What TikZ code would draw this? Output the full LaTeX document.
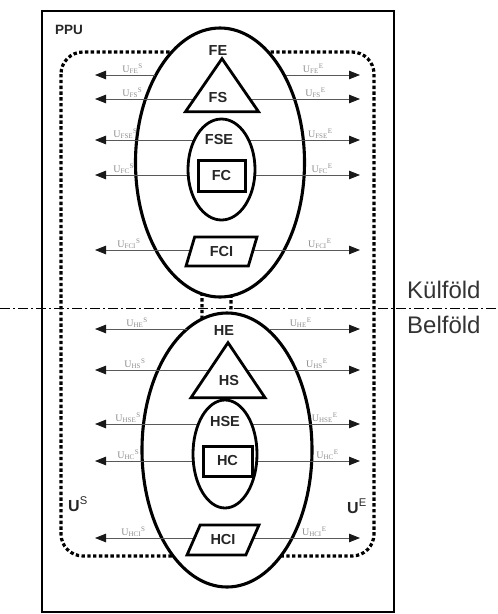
\documentclass[tikz,border=0pt]{standalone}
\usepackage{fontspec}
\setmainfont{Liberation Serif}
\setsansfont{Liberation Sans}
\usetikzlibrary{arrows.meta,positioning,shapes.geometric}
\pgfdeclarelayer{bg}
\pgfdeclarelayer{mid}
\pgfsetlayers{bg,mid,main}

\begin{document}
\begin{tikzpicture}[x=1pt, y=-1pt, font=\sffamily\bfseries]
\tikzstyle{frame}=[draw, line width=2.8pt, inner sep=0pt, minimum width=352pt, minimum height=601pt]
\tikzstyle{ubound}=[draw, line width=3.2pt, dash pattern=on 3.4pt off 2.4pt, rounded corners=22pt]
\tikzstyle{bigell}=[ellipse, draw, line width=3.1pt, fill=white, inner sep=0pt, minimum width=169pt, minimum height=269pt]
\tikzstyle{smallell}=[ellipse, draw, line width=2.8pt, fill=white, inner sep=0pt]
\tikzstyle{tri}=[isosceles triangle, isosceles triangle stretches, shape border rotate=90, anchor=apex, draw, line width=2.8pt, fill=white, inner sep=0pt]
\tikzstyle{ttl}=[inner sep=0pt, text=black!85, font=\sffamily\bfseries\fontsize{14.5}{14.5}\selectfont]
\tikzstyle{cbox}=[ttl, draw, line width=3pt, fill=white]
\tikzstyle{para}=[ttl, trapezium, trapezium stretches, draw, line width=2.8pt, fill=white]
\tikzstyle{arr}=[draw=black!65, line width=0.8pt, -{Triangle[length=11pt, width=8.5pt, color=black!90]}]
\tikzstyle{ulbl}=[inner sep=0pt, text=black!45, font=\rmfamily\mdseries\fontsize{10}{10}\selectfont]
\tikzstyle{side}=[anchor=west, inner sep=0pt, text=black!80, font=\sffamily\mdseries\fontsize{24}{24}\selectfont]
\tikzstyle{ubig}=[anchor=base west, inner sep=0pt, text=black!85, font=\sffamily\bfseries\fontsize{16}{16}\selectfont]

\useasboundingbox (0,0) rectangle (498,614);

\begin{pgfonlayer}{bg}
\node[frame] (ppu) at (218,311.5) {};
\draw[ubound] (61,52) rectangle (202,556);
\draw[ubound] (231,52) rectangle (374,556);
\node[bigell] (fe) at (220,162.5) {};
\node[bigell, minimum width=170pt, minimum height=274pt] (he) at (227,450) {};
\end{pgfonlayer}

\node[ubig, font=\sffamily\bfseries\fontsize{13.5}{13.5}\selectfont] (ppulbl) at (55,34) {PPU};

\node[tri, minimum width=73pt, minimum height=53pt] (fs) at (222,55) {};
\node[ttl] (fetxt) at (218,51) {FE};
\node[ttl] (fstxt) at (218,98) {FS};
\node[smallell, minimum width=67pt, minimum height=101pt] (fse) at (221.5,169.5) {};
\node[ttl] (fsetxt) at (219,140) {FSE};
\node[cbox, minimum width=47pt, minimum height=31pt] (fc) at (221.5,175.5) {FC};
\node[para, trapezium left angle=70, trapezium right angle=110, minimum width=71pt, minimum height=29pt] (fci) at (221.5,251.5) {FCI};

\node[tri, minimum width=74pt, minimum height=55pt] (hs) at (228,339) {};
\node[ttl] (hetxt) at (224,331) {HE};
\node[ttl] (hstxt) at (229,381) {HS};
\node[smallell, minimum width=64pt, minimum height=108pt] (hse) at (225,454) {};
\node[ttl] (hsetxt) at (225,422) {HSE};
\node[cbox, minimum width=49pt, minimum height=30pt] (hc) at (227.5,461) {HC};
\node[para, trapezium left angle=55, trapezium right angle=125, minimum width=72pt, minimum height=30pt] (hci) at (223,540) {HCI};

\coordinate (xl) at (95,0);
\coordinate (xr) at (360,0);
\coordinate (yfe) at (0,75);
\coordinate (yfs) at (0,99);
\coordinate (yfse) at (0,140);
\coordinate (yfc) at (0,175);
\coordinate (yfci) at (0,250);
\coordinate (yhe) at (0,329);
\coordinate (yhs) at (0,370);
\coordinate (yhse) at (0,424);
\coordinate (yhc) at (0,461);
\coordinate (yhci) at (0,538);

\begin{pgfonlayer}{mid}
\draw[arr] (fe.126.4 |- yfe) -- (xl |- yfe) node[ulbl, above right=1pt and 27pt] (lfes) {U\textsubscript{FE}\textsuperscript{S}};
\draw[arr] (fe.53.6 |- yfe) -- (xr |- yfe) node[ulbl, above left=1pt and 36pt] (lfee) {U\textsubscript{FE}\textsuperscript{E}};
\draw[arr] (fs.apex |- yfs) -- (xl |- yfs) node[ulbl, above right=1pt and 27pt] (lfss) {U\textsubscript{FS}\textsuperscript{S}};
\draw[arr] (fs.apex |- yfs) -- (xr |- yfs) node[ulbl, above left=1pt and 34pt] (lfse) {U\textsubscript{FS}\textsuperscript{E}};
\draw[arr] (fse.center |- yfse) -- (xl |- yfse) node[ulbl, above right=1pt and 18pt] (lfses) {U\textsubscript{FSE}\textsuperscript{S}};
\draw[arr] (fse.center |- yfse) -- (xr |- yfse) node[ulbl, above left=1pt and 27pt] (lfsee) {U\textsubscript{FSE}\textsuperscript{E}};
\draw[arr] (fc.center |- yfc) -- (xl |- yfc) node[ulbl, above right=1pt and 18pt] (lfcs) {U\textsubscript{FC}\textsuperscript{S}};
\draw[arr] (fc.center |- yfc) -- (xr |- yfc) node[ulbl, above left=1pt and 27pt] (lfce) {U\textsubscript{FC}\textsuperscript{E}};
\draw[arr] (fci.center |- yfci) -- (xl |- yfci) node[ulbl, above right=1pt and 22pt] (lfcis) {U\textsubscript{FCI}\textsuperscript{S}};
\draw[arr] (fci.center |- yfci) -- (xr |- yfci) node[ulbl, above left=1pt and 28pt] (lfcie) {U\textsubscript{FCI}\textsuperscript{E}};
\draw[arr] (he.108.2 |- yhe) -- (xl |- yhe) node[ulbl, above right=1pt and 31pt] (lhes) {U\textsubscript{HE}\textsuperscript{S}};
\draw[arr] (he.71.8 |- yhe) -- (xr |- yhe) node[ulbl, above left=1pt and 48pt] (lhee) {U\textsubscript{HE}\textsuperscript{E}};
\draw[arr] (hs.apex |- yhs) -- (xl |- yhs) node[ulbl, above right=1pt and 29pt] (lhss) {U\textsubscript{HS}\textsuperscript{S}};
\draw[arr] (hs.apex |- yhs) -- (xr |- yhs) node[ulbl, above left=1pt and 32pt] (lhse) {U\textsubscript{HS}\textsuperscript{E}};
\draw[arr] (hse.center |- yhse) -- (xl |- yhse) node[ulbl, above right=1pt and 20pt] (lhses) {U\textsubscript{HSE}\textsuperscript{S}};
\draw[arr] (hse.center |- yhse) -- (xr |- yhse) node[ulbl, above left=1pt and 22pt] (lhsee) {U\textsubscript{HSE}\textsuperscript{E}};
\draw[arr] (hc.center |- yhc) -- (xl |- yhc) node[ulbl, above right=1pt and 22pt] (lhcs) {U\textsubscript{HC}\textsuperscript{S}};
\draw[arr] (hc.center |- yhc) -- (xr |- yhc) node[ulbl, above left=1pt and 21pt] (lhce) {U\textsubscript{HC}\textsuperscript{E}};
\draw[arr] (hci.center |- yhci) -- (xl |- yhci) node[ulbl, above right=1pt and 26pt] (lhcis) {U\textsubscript{HCI}\textsuperscript{S}};
\draw[arr] (hci.center |- yhci) -- (xr |- yhci) node[ulbl, above left=1pt and 33pt] (lhcie) {U\textsubscript{HCI}\textsuperscript{E}};
\end{pgfonlayer}

\coordinate (dl) at (0,308);
\coordinate (dr) at (498,308);
\draw[line width=0.7pt, dash pattern=on 10pt off 3pt on 2pt off 3pt] (dl) -- (dr);
\node[side] (kulf) at (407,290) {Külföld};
\node[side] (belf) at (407,325) {Belföld};
\node[ubig] (us) at (68,511) {U\textsuperscript{\mdseries S}};
\node[ubig] (ue) at (347,513) {U\textsuperscript{\mdseries E}};
\end{tikzpicture}
\end{document}
